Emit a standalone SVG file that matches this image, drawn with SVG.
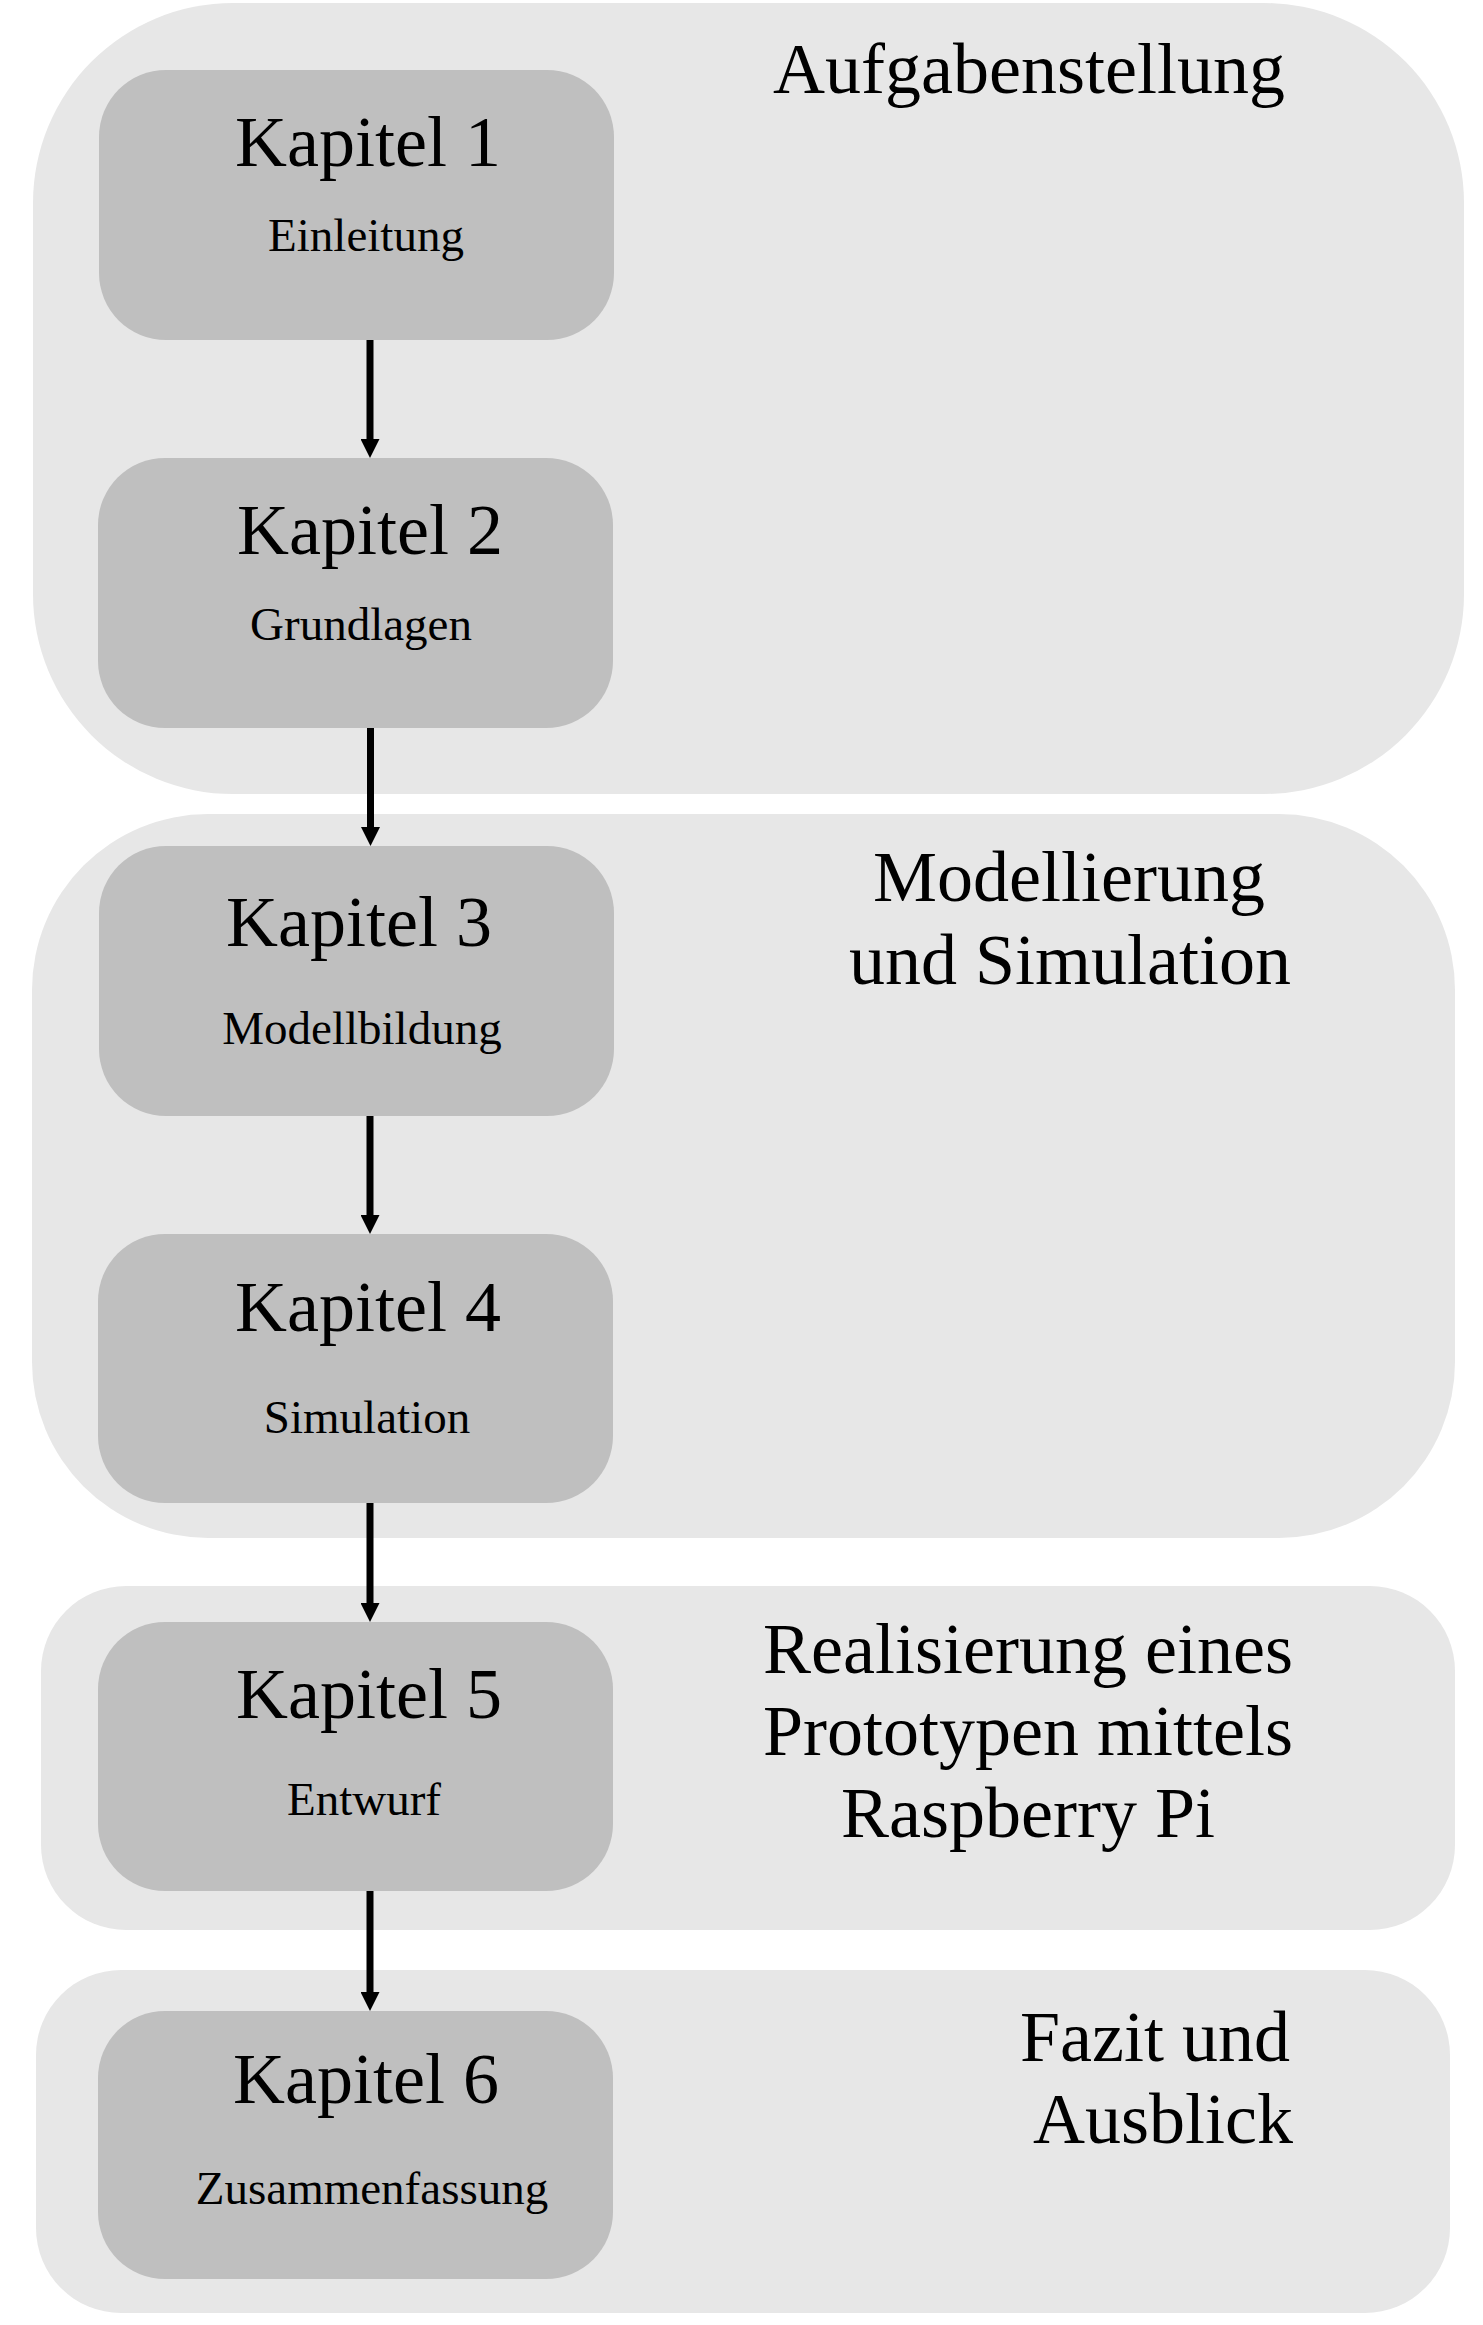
<svg xmlns="http://www.w3.org/2000/svg" width="1483" height="2325" viewBox="0 0 1483 2325">
  <style>
    .grp { fill: #e7e7e7; }
    .node { fill: #bfbfbf; }
    .t { font-family: "Liberation Serif", "Times New Roman", serif; fill: #000; }
    .big { font-size: 72px; }
    .small { font-size: 47px; }
    .c { text-anchor: middle; }
    .e { text-anchor: end; }
    .conn { stroke: #000; stroke-width: 7; fill: none; }
  </style>
  <defs>
    <marker id="ah" viewBox="0 0 19 19" refX="1" refY="9.5" markerWidth="19" markerHeight="19" markerUnits="userSpaceOnUse" orient="auto">
      <path d="M0,0 L19,9.5 L0,19 z" fill="#000"/>
    </marker>
  </defs>
  <rect width="1483" height="2325" fill="#ffffff"/>

  <g id="group-aufgabenstellung">
    <rect class="grp" x="33" y="3" width="1431" height="791" rx="200" ry="200"/>
    <text class="t big c" x="1029" y="93">Aufgabenstellung</text>
  </g>
  <g id="group-modellierung">
    <rect class="grp" x="32" y="814" width="1423" height="724" rx="176" ry="176"/>
    <text class="t big c" x="1069" y="901">Modellierung</text>
    <text class="t big c" x="1070" y="984">und Simulation</text>
  </g>
  <g id="group-realisierung">
    <rect class="grp" x="41" y="1586" width="1414" height="344" rx="85" ry="85"/>
    <text class="t big c" x="1028" y="1673">Realisierung eines</text>
    <text class="t big c" x="1028" y="1755">Prototypen mittels</text>
    <text class="t big c" x="1028" y="1837">Raspberry Pi</text>
  </g>
  <g id="group-fazit">
    <rect class="grp" x="36" y="1970" width="1414" height="343" rx="85" ry="85"/>
    <text class="t big e" x="1290" y="2061">Fazit und</text>
    <text class="t big e" x="1293" y="2143">Ausblick</text>
  </g>

  <g id="node-kapitel1">
    <rect class="node" x="99" y="70" width="515" height="270" rx="67" ry="67"/>
    <text class="t big c" x="368" y="166">Kapitel 1</text>
    <text class="t small c" x="366" y="251">Einleitung</text>
  </g>
  <g id="node-kapitel2">
    <rect class="node" x="98" y="458" width="515" height="270" rx="67" ry="67"/>
    <text class="t big c" x="370" y="554">Kapitel 2</text>
    <text class="t small c" x="361" y="640">Grundlagen</text>
  </g>
  <g id="node-kapitel3">
    <rect class="node" x="99" y="846" width="515" height="270" rx="67" ry="67"/>
    <text class="t big c" x="359" y="946">Kapitel 3</text>
    <text class="t small c" x="362" y="1044">Modellbildung</text>
  </g>
  <g id="node-kapitel4">
    <rect class="node" x="98" y="1234" width="515" height="269" rx="67" ry="67"/>
    <text class="t big c" x="368" y="1331">Kapitel 4</text>
    <text class="t small c" x="367" y="1433">Simulation</text>
  </g>
  <g id="node-kapitel5">
    <rect class="node" x="98" y="1622" width="515" height="269" rx="67" ry="67"/>
    <text class="t big c" x="369" y="1718">Kapitel 5</text>
    <text class="t small c" x="364" y="1815">Entwurf</text>
  </g>
  <g id="node-kapitel6">
    <rect class="node" x="98" y="2011" width="515" height="268" rx="67" ry="67"/>
    <text class="t big c" x="366" y="2103">Kapitel 6</text>
    <text class="t small c" x="372" y="2204">Zusammenfassung</text>
  </g>

  <g id="connectors">
    <line class="conn" x1="370" y1="340" x2="370" y2="440" marker-end="url(#ah)"/>
    <line class="conn" x1="370.5" y1="728" x2="370.5" y2="828" marker-end="url(#ah)"/>
    <line class="conn" x1="370" y1="1116" x2="370" y2="1216" marker-end="url(#ah)"/>
    <line class="conn" x1="370" y1="1503" x2="370" y2="1604" marker-end="url(#ah)"/>
    <line class="conn" x1="370" y1="1891" x2="370" y2="1993" marker-end="url(#ah)"/>
  </g>
</svg>
